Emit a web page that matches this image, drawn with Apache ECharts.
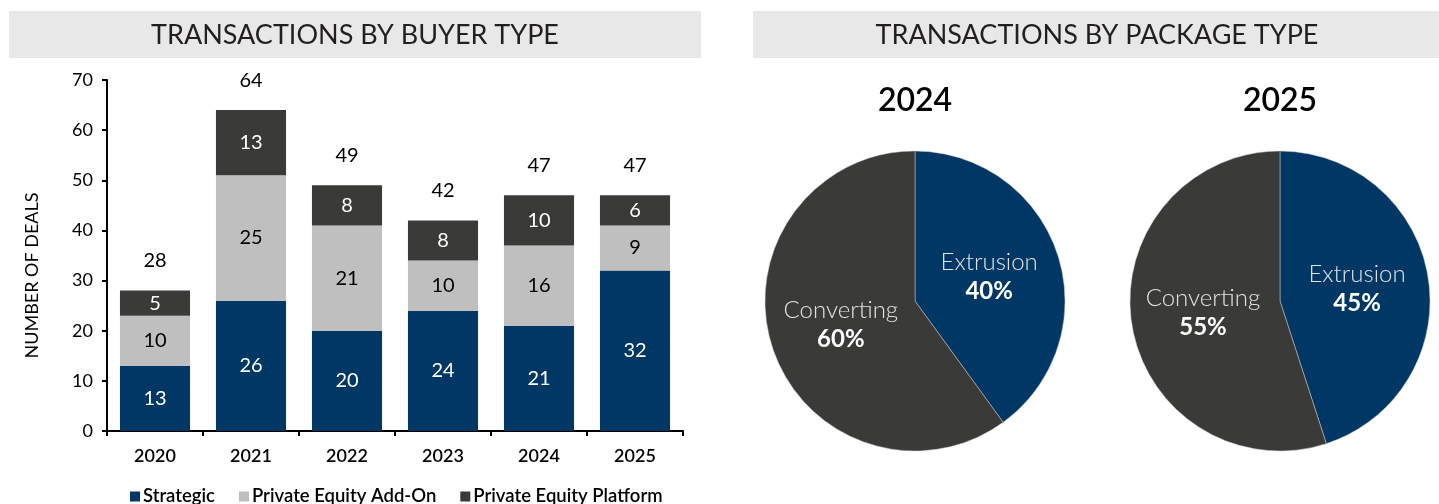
<!DOCTYPE html>
<html>
<head>
<meta charset="utf-8">
<script src="https://cdn.jsdelivr.net/npm/echarts@6/dist/echarts.min.js"></script>
<style>
  html, body { margin: 0; padding: 0; background: #fff; }
  #main { width: 1439px; height: 504px; }
</style>
</head>
<body>
<div id="main"></div>
<script>
// data
var years = ['2020', '2021', '2022', '2023', '2024', '2025'];
var strategic = [13, 26, 20, 24, 21, 32];
var peAddOn = [10, 25, 21, 10, 16, 9];
var pePlatform = [5, 13, 8, 8, 10, 6];
var buyerNames = ['Strategic', 'Private Equity Add-On', 'Private Equity Platform'];

var packageNames = ['Extrusion', 'Converting'];
var share2024 = [40, 60];
var share2025 = [45, 55];

var yTicks = [0, 10, 20, 30, 40, 50, 60, 70];

var navy = '#003764', lightGray = '#BFBFBF', dark = '#3A3A38';
var font = 'Lato';

var totals = years.map(function (y, i) {
    return strategic[i] + peAddOn[i] + pePlatform[i];
});

function pieData(vals) {
    return packageNames.map(function (n, i) {
        return { name: n, value: vals[i] };
    });
}

var myChart = echarts.init(document.getElementById('main'));

// series label helper
function barLabel(color) {
    return { show: true, position: 'inside', color: color, fontSize: 20, fontFamily: font };
}

var pieLabel = {
    show: true,
    position: 'inside',
    formatter: '{n|{b}}\n{p|{c}%}',
    rich: {
        n: { color: '#E3E3E3', fontSize: 24, fontFamily: font, fontWeight: 300, lineHeight: 29 },
        p: { color: '#fff', fontSize: 24, fontFamily: font, fontWeight: 'bold', lineHeight: 29 }
    }
};

var option = {
    animation: false,
    textStyle: { fontFamily: font },
    graphic: [
        { type: 'rect', shape: { x: 9, y: 11, width: 692, height: 47 }, style: { fill: '#E8E8E8' } },
        { type: 'rect', shape: { x: 753, y: 11, width: 686, height: 47 }, style: { fill: '#E8E8E8' } },
        { type: 'text', x: 355, y: 35, style: { text: 'TRANSACTIONS BY BUYER TYPE', fill: '#231F20', font: '27px Lato', textAlign: 'center', textVerticalAlign: 'middle' } },
        { type: 'text', x: 1097, y: 35, style: { text: 'TRANSACTIONS BY PACKAGE TYPE', fill: '#231F20', font: '27px Lato', textAlign: 'center', textVerticalAlign: 'middle' } },
        { type: 'text', x: 915, y: 101, style: { text: '2024', fill: '#000', font: '600 32px Lato', textAlign: 'center', textVerticalAlign: 'middle' } },
        { type: 'text', x: 1280, y: 101, style: { text: '2025', fill: '#000', font: '600 32px Lato', textAlign: 'center', textVerticalAlign: 'middle' } }
    ],
    legend: {
        data: buyerNames,
        left: 125,
        top: 482,
        itemWidth: 10,
        itemHeight: 10,
        itemGap: 24,
        icon: 'rect',
        textStyle: { fontSize: 18.5, fontWeight: 600, color: '#000', fontFamily: font, padding: [0, 0, 0, -2] }
    },
    grid: { left: 107, right: 756, top: 80, bottom: 73, containLabel: false },
    xAxis: {
        type: 'category',
        data: years,
        axisLine: { lineStyle: { color: '#000', width: 2 } },
        axisTick: { show: true, length: 5, lineStyle: { color: '#000', width: 2 } },
        axisLabel: { color: '#000', fontSize: 18, fontWeight: 600, margin: 16, fontFamily: font }
    },
    yAxis: {
        type: 'value',
        min: yTicks[0],
        max: yTicks[yTicks.length - 1],
        interval: 10,
        name: 'NUMBER OF DEALS',
        nameLocation: 'middle',
        nameGap: 66,
        nameTextStyle: { color: '#000', fontSize: 18, fontFamily: font, padding: [0, 40, 0, 0] },
        axisLine: { show: true, lineStyle: { color: '#000', width: 2 } },
        axisTick: { show: true, length: 5, lineStyle: { color: '#000', width: 2 } },
        splitLine: { show: false },
        axisLabel: { color: '#000', fontSize: 18, margin: 14, fontFamily: font }
    },
    series: [
        {
            name: buyerNames[0], type: 'bar', stack: 'deals', data: strategic,
            barCategoryGap: '27%', itemStyle: { color: navy }, label: barLabel('#fff')
        },
        {
            name: buyerNames[1], type: 'bar', stack: 'deals', data: peAddOn,
            itemStyle: { color: lightGray }, label: barLabel('#000')
        },
        {
            name: buyerNames[2], type: 'bar', stack: 'deals', data: pePlatform,
            itemStyle: { color: dark }, label: barLabel('#fff')
        },
        {
            // totals above the bars
            name: 'total', type: 'scatter', data: totals, symbolSize: 0,
            silent: true, itemStyle: { opacity: 1 },
            label: { show: true, position: 'top', distance: 20, color: '#000', fontSize: 20, fontFamily: font }
        },
        {
            name: '2024', type: 'pie', center: [915, 301], radius: 150,
            startAngle: 90, data: pieData(share2024),
            color: [navy, '#3A3B38'],
            itemStyle: { borderColor: '#C8C8C8', borderWidth: 0.5 },
            label: pieLabel, labelLine: { show: false }
        },
        {
            name: '2025', type: 'pie', center: [1280, 301], radius: 150,
            startAngle: 90, data: pieData(share2025),
            color: [navy, '#3A3B38'],
            itemStyle: { borderColor: '#C8C8C8', borderWidth: 0.5 },
            label: pieLabel, labelLine: { show: false }
        }
    ]
};

myChart.setOption(option);
window.addEventListener('resize', function () {
    myChart.resize();
});
</script>
</body>
</html>
